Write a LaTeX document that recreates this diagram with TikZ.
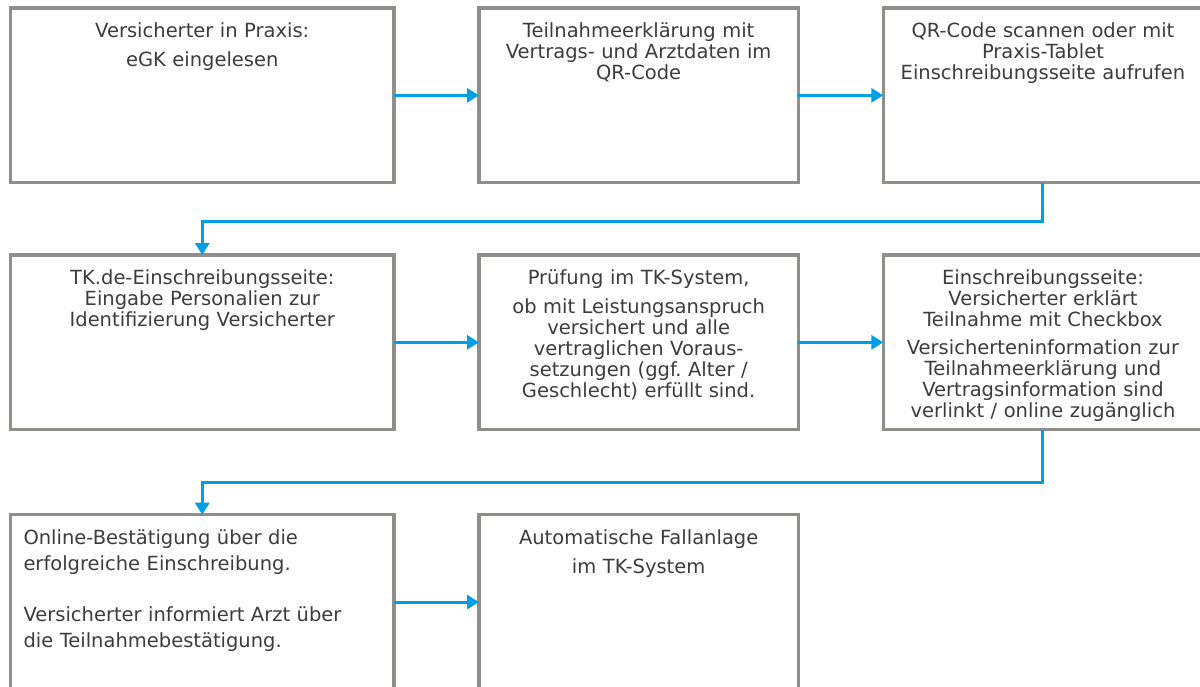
\documentclass[tikz,border=0pt]{standalone}
\usepackage{fontspec}
\setmainfont{DejaVu Sans}
\usepackage{xcolor}
\usepackage{tikz}
\usetikzlibrary{positioning, arrows.meta}
\definecolor{tkblue}{HTML}{009FE3}
\definecolor{boxgray}{HTML}{8E8E8A}
\definecolor{textgray}{HTML}{3C3C3C}
\tikzstyle{process} = [rectangle, draw=boxgray, line width=3.5pt, inner sep=0pt, outer sep=0pt, minimum height=174.7pt]
\tikzstyle{wide} = [process, minimum width=383.5pt]
\tikzstyle{narrow} = [process, minimum width=319.3pt]
\tikzstyle{boxtext} = [anchor=base, text width=316pt, align=center, inner sep=0pt, text=textgray, font=\fontsize{19.5}{21}\selectfont]
\tikzstyle{arrow} = [line width=3pt, draw=tkblue, -{Triangle[length=12pt, width=14pt]}]

\begin{document}
\begin{tikzpicture}[x=1pt, y=-1pt, node distance=85pt]
    \useasboundingbox (0,0) rectangle (1200,686);
    \clip (0,0) rectangle (1200,686);

    % Nodes
    \node[wide] (praxis) at (202.25,95.35) {};
    \node[narrow, right=of praxis] (qrcode) {};
    \node[narrow, right=of qrcode] (scan) {};
    \node[wide, below=72.3pt of praxis] (anmeldung) {};
    \node[narrow, right=of anmeldung] (pruefung) {};
    \node[narrow, right=of pruefung] (checkbox) {};
    \node[wide, below=85pt of anmeldung] (bestaetigung) {};
    \node[narrow, right=of bestaetigung] (fallanlage) {};

    % Texts
    \node[boxtext] (praxistext) at ([yshift=-29.3pt]praxis.north) {Versicherter in Praxis:\\[8.5pt]eGK eingelesen};
    \node[boxtext] (qrcodetext) at ([yshift=-29.3pt]qrcode.north) {Teilnahmeerklärung mit\\Vertrags- und Arztdaten im\\QR-Code};
    \node[boxtext] (scantext) at ([yshift=-29.3pt]scan.north) {QR-Code scannen oder mit\\Praxis-Tablet\\Einschreibungsseite aufrufen};
    \node[boxtext] (anmeldungtext) at ([yshift=-29.3pt]anmeldung.north) {TK.de-Einschreibungsseite:\\Eingabe Personalien zur\\Identifizierung Versicherter};
    \node[boxtext] (pruefungtext) at ([yshift=-29.3pt]pruefung.north) {Prüfung im TK-System,\\[8.5pt]ob mit Leistungsanspruch\\versichert und alle\\vertraglichen Voraus-\\setzungen (ggf.\ Alter /\\Geschlecht) erfüllt sind.};
    \node[boxtext] (checkboxtext) at ([yshift=-29.3pt]checkbox.north) {Einschreibungsseite:\\Versicherter erklärt\\Teilnahme mit Checkbox\\[7.5pt]Versicherteninformation zur\\Teilnahmeerklärung und\\Vertragsinformation sind\\verlinkt / online zugänglich};
    \node[boxtext, anchor=base west, align=left, text width=370pt, font=\fontsize{19.5}{25.5}\selectfont] (bestaetigungtext) at ([xshift=12.8pt, yshift=-30pt]bestaetigung.north west) {Online-Bestätigung über die\\erfolgreiche Einschreibung.\\[26pt]Versicherter informiert Arzt über\\die Teilnahmebestätigung.};
    \node[boxtext] (fallanlagetext) at ([yshift=-29.3pt]fallanlage.north) {Automatische Fallanlage\\[8.5pt]im TK-System};

    % Arrows
    \draw[arrow] (praxis) -- (qrcode);
    \draw[arrow] (qrcode) -- (scan);
    \draw[arrow] (scan.south) -- ++(0,39) -| (anmeldung.north);
    \draw[arrow] (anmeldung) -- (pruefung);
    \draw[arrow] (pruefung) -- (checkbox);
    \draw[arrow] (checkbox.south) -- ++(0,52.3) -| (bestaetigung.north);
    \draw[arrow] (bestaetigung) -- (fallanlage);

\end{tikzpicture}
\end{document}
